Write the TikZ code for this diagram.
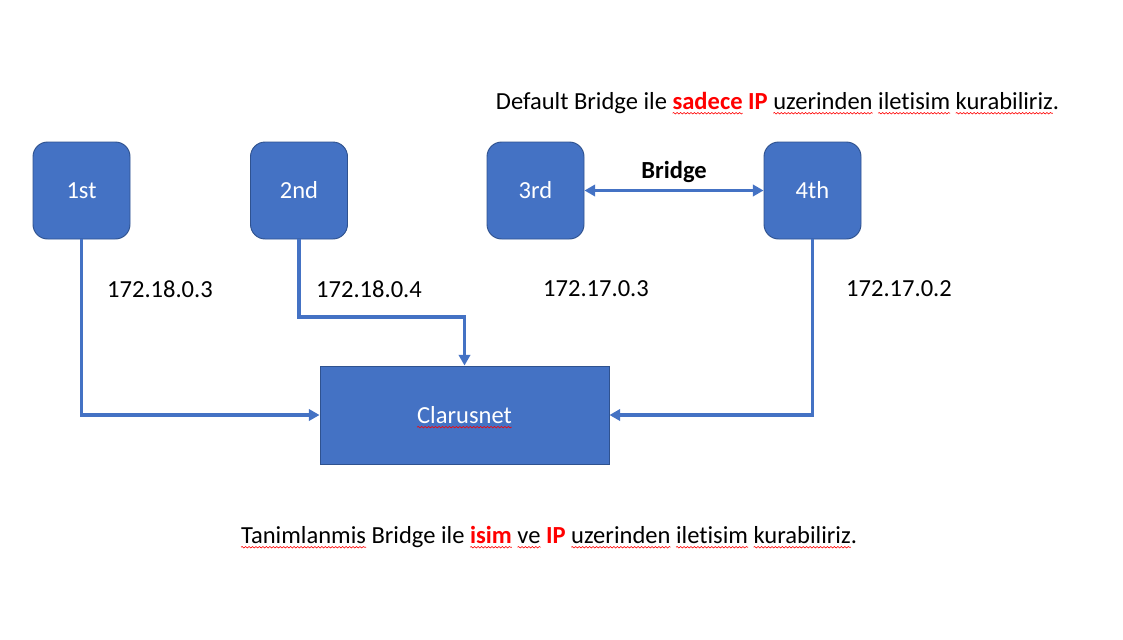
\documentclass[tikz,border=0pt]{standalone}
\usepackage{fontspec}
\setmainfont[Ligatures=NoCommon]{Carlito}
\usetikzlibrary{arrows.meta,decorations.pathmorphing}
\definecolor{boxblue}{HTML}{4472C4}
\definecolor{boxedge}{HTML}{2F528F}
\definecolor{wordred}{HTML}{FF0000}
\newcommand\dfont{\fontsize{18.4}{22}\selectfont}
\tikzset{
  sqline/.style={draw=red, line width=0.45pt, decorate, decoration={snake, amplitude=0.55pt, segment length=2.6pt}},
  hostbox/.style={rectangle, rounded corners=11pt, fill=boxblue, draw=boxedge, line width=0.7pt,
    minimum width=72.75pt, minimum height=72.75pt, text=white, font=\dfont, inner sep=0pt},
  netbox/.style={rectangle, fill=boxblue, draw=boxedge, line width=0.7pt,
    minimum width=216.75pt, minimum height=73.5pt, text=white, font=\dfont, inner sep=0pt},
  conn/.style={draw=boxblue, line width=2.5pt, -{Triangle[length=8pt,width=8.5pt]}},
  biconn/.style={draw=boxblue, line width=2.5pt, {Triangle[length=8pt,width=8.5pt]}-{Triangle[length=8pt,width=8.5pt]}},
  lbl/.style={font=\dfont, inner sep=0pt, text=black},
  caption/.style={font=\dfont, inner sep=0pt, text=black},
}
\newcommand\sqw[1]{\leavevmode\setbox0=\hbox{#1}\rlap{\copy0}%
  \tikz[baseline=0pt,x=1pt,y=1pt]{\useasboundingbox (0,0) rectangle (\wd0,0.1); \draw[sqline,overlay] (0,-2.8) -- (\wd0,-2.8);}}
\newcommand\hl[1]{\textcolor{wordred}{\textbf{#1}}}
\begin{document}
\begin{tikzpicture}[x=0.75pt,y=-0.75pt]
  \useasboundingbox (0,0) rectangle (1123,639);
  \node[hostbox] (n1) at (81.5,190.5) {1st};
  \node[hostbox] (n2) at (299,190.5) {2nd};
  \node[hostbox] (n3) at (535.5,190.5) {3rd};
  \node[hostbox] (n4) at (812.5,190.5) {4th};
  \node[netbox] (cl) at (464.5,415) {\sqw{Clarusnet}};
  \coordinate (k2) at (464.5,317);
  \draw[conn] (n1.south) |- (cl.west);
  \draw[conn] (n2.south) |- (k2) -- (cl.north);
  \draw[conn] (n4.south) |- (cl.east);
  \draw[biconn] (n3.east) -- node[above=5pt, lbl, font=\dfont\bfseries] (br) {Bridge} (n4.west);
  \node[lbl] (ip1) at (160,289) {172.18.0.3};
  \node[lbl] (ip2) at (369,289) {172.18.0.4};
  \node[lbl] (ip3) at (596,289) {172.17.0.3};
  \node[lbl] (ip4) at (899,289) {172.17.0.2};
  \node[caption] (top) at (777.5,103) {Default Bridge ile \hl{\sqw{sadece}} \hl{IP} \sqw{uzerinden} \sqw{iletisim} \sqw{kurabiliriz}.};
  \node[caption] (bot) at (549,537) {\sqw{Tanimlanmis} Bridge ile \hl{\sqw{isim}} \sqw{ve} \hl{IP} \sqw{uzerinden} \sqw{iletisim} \sqw{kurabiliriz}.};
\end{tikzpicture}
\end{document}
